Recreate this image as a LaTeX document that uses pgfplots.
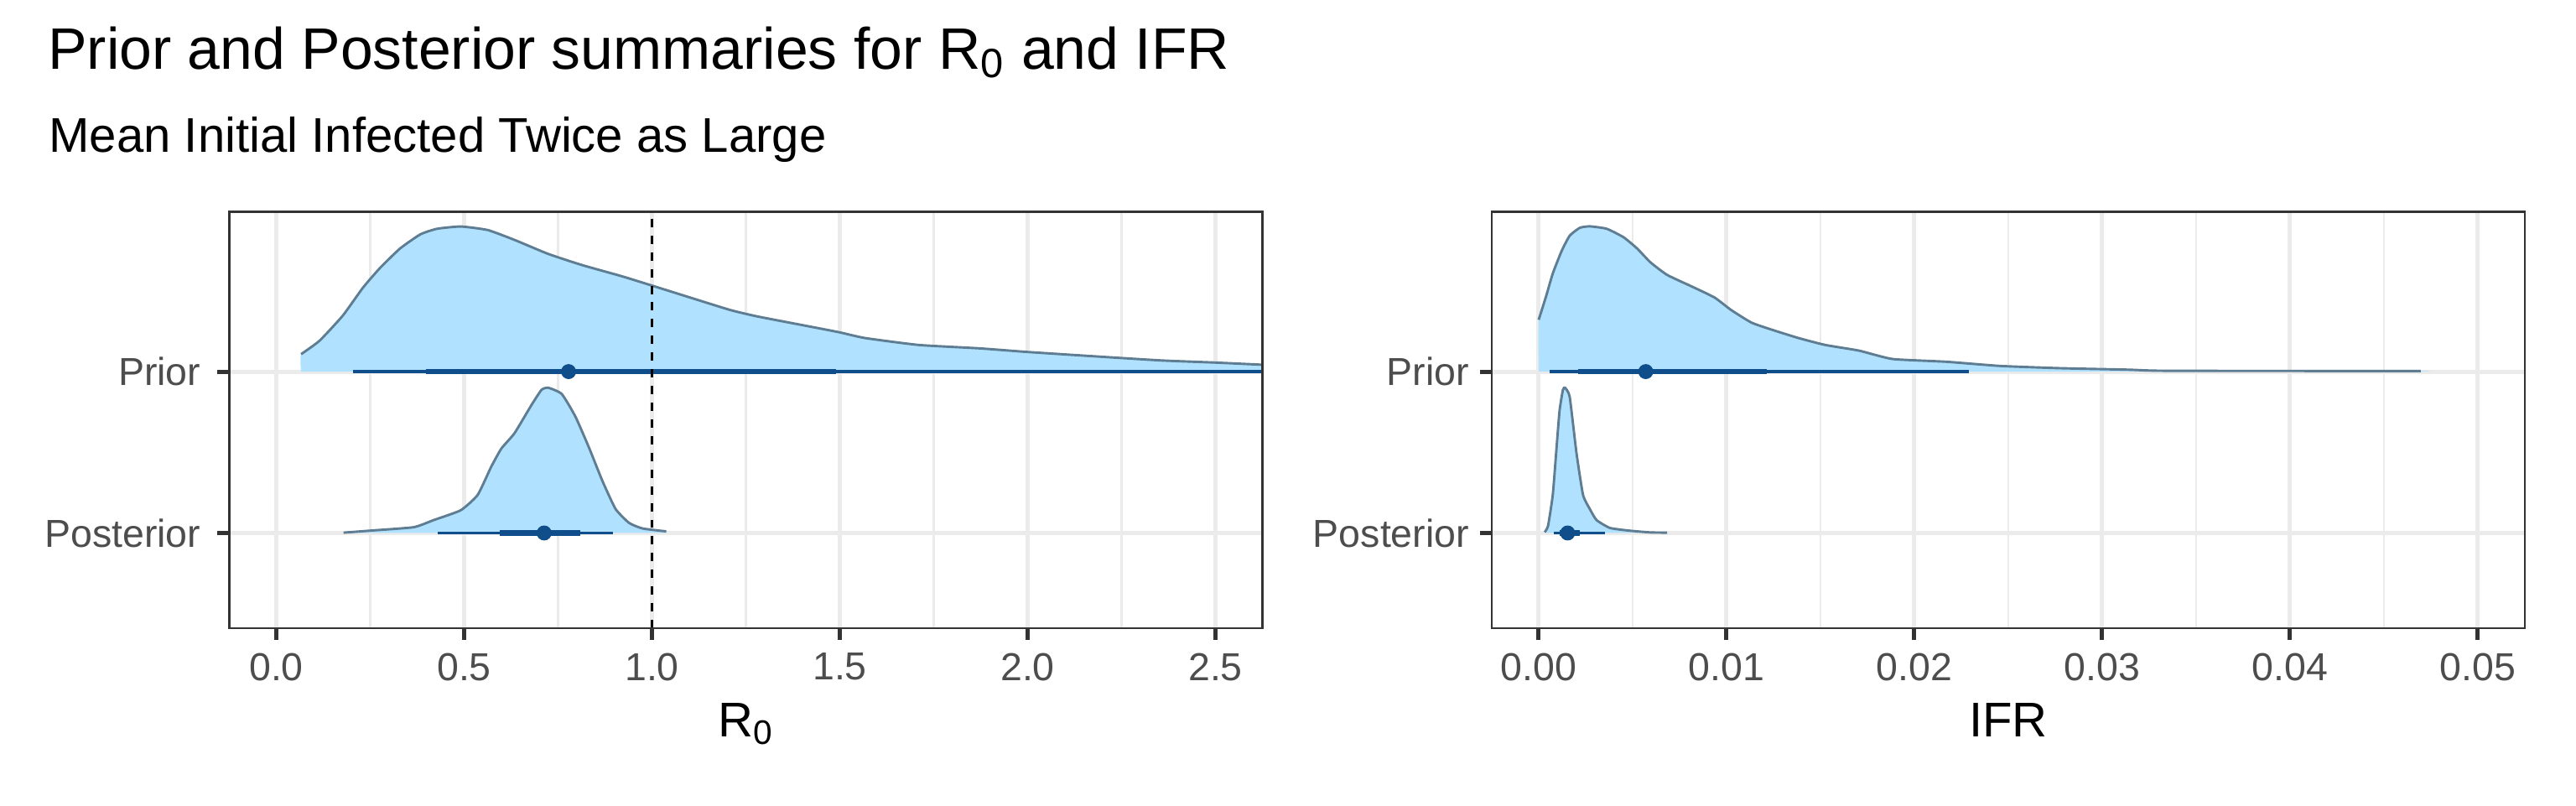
\documentclass[border=0pt]{standalone}
\usepackage{pgfplots}
\pgfplotsset{compat=1.18}
\usepackage{fontspec}
\setmainfont{Liberation Sans}
\definecolor{gridcol}{HTML}{EBEBEB}
\definecolor{bordercol}{HTML}{333333}
\definecolor{ticklab}{HTML}{4D4D4D}
\definecolor{slabfill}{HTML}{B0E2FF}
\definecolor{slabline}{HTML}{5E7D92}
\definecolor{intcol}{HTML}{104E8B}
\pgfplotsset{
  ggbase/.style={
    scale only axis, width=296.8pt, height=119.6pt,
    ymin=0.41, ymax=2.99, ytick={1,2}, yticklabels={Posterior,Prior},
    axis line style={bordercol, line width=0.65pt},
    tick align=outside, major tick length=3.4pt, minor tick length=0pt,
    xtick pos=bottom, ytick pos=left,
    tick style={bordercol, line width=1.2pt},
    grid=both,
    major grid style={gridcol, line width=1.2pt},
    minor grid style={gridcol, line width=0.6pt},
    scaled x ticks=false,
    ticklabel style={font=\fontsize{11.2}{13}\selectfont, text=ticklab},
    xticklabel style={anchor=north, inner sep=0pt, yshift=-3.6pt},
    yticklabel style={anchor=east, inner sep=0pt},
    xlabel style={font=\fontsize{14}{16}\selectfont, at={(axis description cs:0.5,0)}, anchor=base, inner sep=0pt, yshift=-31.08pt},
    clip=true,
    after end axis/.code={\draw[bordercol, line width=0.65pt] (rel axis cs:0,0) rectangle (rel axis cs:1,1);},
  },
  slab/.style={fill=slabfill, draw=none, smooth, tension=0.3},
  slabedge/.style={slabline, line width=0.7pt, smooth, tension=0.3},
}
\begin{document}
\begin{tikzpicture}
\path[use as bounding box] (0,0) rectangle (740.06pt,231.27pt);
\node[anchor=base west, inner sep=0pt] at (13.6pt,211.51pt) {\fontsize{16.8}{20}\selectfont Prior and Posterior summaries for R\textsubscript{0} and IFR};
\node[anchor=base west, inner sep=0pt] at (13.9pt,187.49pt) {\fontsize{14}{16}\selectfont Mean Initial Infected Twice as Large};

% ---------------- R0 panel ----------------
\begin{axis}[ggbase, at={(65.89pt,50.83pt)}, anchor=south west,
  xmin=-0.125, xmax=2.625,
  xtick={0,0.5,1,1.5,2,2.5}, xticklabels={0.0,0.5,1.0,1.5,2.0,2.5},
  minor xtick={0.25,0.75,1.25,1.75,2.25},
  yticklabel style={xshift=-4.67pt},
  xlabel={R\textsubscript{0}}]
% prior slab
\addplot[slab] coordinates {
(0.066,2)(0.066,2.108)(0.115,2.191)(0.177,2.347)(0.231,2.521)(0.276,2.642)(0.330,2.764)(0.384,2.851)(0.428,2.885)(0.491,2.899)(0.563,2.877)(0.634,2.816)(0.724,2.729)(0.814,2.660)(0.921,2.590)(1.0,2.533)(1.100,2.460)(1.208,2.382)(1.280,2.342)(1.423,2.278)(1.5,2.243)(1.567,2.208)(1.710,2.165)(1.872,2.144)(1.997,2.122)(2.176,2.095)(2.356,2.069)(2.499,2.056)(2.62,2.043)(2.70,2.036)(2.70,2)};
\addplot[slabedge] coordinates {
(0.066,2.108)(0.115,2.191)(0.177,2.347)(0.231,2.521)(0.276,2.642)(0.330,2.764)(0.384,2.851)(0.428,2.885)(0.491,2.899)(0.563,2.877)(0.634,2.816)(0.724,2.729)(0.814,2.660)(0.921,2.590)(1.0,2.533)(1.100,2.460)(1.208,2.382)(1.280,2.342)(1.423,2.278)(1.5,2.243)(1.567,2.208)(1.710,2.165)(1.872,2.144)(1.997,2.122)(2.176,2.095)(2.356,2.069)(2.499,2.056)(2.62,2.043)(2.70,2.036)};
% posterior slab
\addplot[slab] coordinates {
(0.179,1)(0.258,1.016)(0.366,1.036)(0.419,1.080)(0.491,1.141)(0.536,1.236)(0.572,1.410)(0.599,1.523)(0.634,1.618)(0.679,1.792)(0.706,1.887)(0.724,1.9)(0.760,1.861)(0.796,1.722)(0.832,1.531)(0.868,1.323)(0.903,1.149)(0.939,1.0625)(0.975,1.028)(1.038,1.010)(1.038,1)};
\addplot[slabedge] coordinates {
(0.179,1.002)(0.258,1.016)(0.366,1.036)(0.419,1.080)(0.491,1.141)(0.536,1.236)(0.572,1.410)(0.599,1.523)(0.634,1.618)(0.679,1.792)(0.706,1.887)(0.724,1.9)(0.760,1.861)(0.796,1.722)(0.832,1.531)(0.868,1.323)(0.903,1.149)(0.939,1.0625)(0.975,1.028)(1.038,1.010)};
% intervals
\addplot[intcol, line width=0.9pt] coordinates {(0.204,2)(3,2)};
\addplot[intcol, line width=1.6pt] coordinates {(0.398,2)(1.491,2)};
\addplot[intcol, only marks, mark=*, mark size=1.95pt] coordinates {(0.778,2)};
\addplot[intcol, line width=0.9pt] coordinates {(0.430,1)(0.896,1)};
\addplot[intcol, line width=1.6pt] coordinates {(0.595,1)(0.810,1)};
\addplot[intcol, only marks, mark=*, mark size=1.95pt] coordinates {(0.713,1)};
% reference line
\addplot[black, line width=0.5pt, dash pattern=on 2.4pt off 2.4pt] coordinates {(1,0.41)(1,2.99)};
\end{axis}

% ---------------- IFR panel ----------------
\begin{axis}[ggbase, at={(428.56pt,50.83pt)}, anchor=south west,
  xmin=-0.0025, xmax=0.0525,
  xtick={0,0.01,0.02,0.03,0.04,0.05}, xticklabels={0.00,0.01,0.02,0.03,0.04,0.05},
  minor xtick={0.005,0.015,0.025,0.035,0.045},
  yticklabel style={xshift=-2.9pt},
  xlabel={IFR}]
\addplot[slab] coordinates {
(0,2)(0,2.321)(0.0004,2.469)(0.00075,2.608)(0.00122,2.747)(0.00165,2.842)(0.00219,2.891)(0.00272,2.9)(0.00362,2.885)(0.00451,2.833)(0.00523,2.764)(0.00595,2.677)(0.00684,2.599)(0.0081,2.530)(0.00935,2.460)(0.01024,2.382)(0.01132,2.304)(0.0124,2.260)(0.01383,2.208)(0.01526,2.165)(0.01705,2.130)(0.01884,2.078)(0.0217,2.061)(0.02457,2.035)(0.0278,2.021)(0.03138,2.012)(0.03353,2.005)(0.04696,2.0035)(0.04696,2)};
\addplot[slabedge] coordinates {
(0,2.321)(0.0004,2.469)(0.00075,2.608)(0.00122,2.747)(0.00165,2.842)(0.00219,2.891)(0.00272,2.9)(0.00362,2.885)(0.00451,2.833)(0.00523,2.764)(0.00595,2.677)(0.00684,2.599)(0.0081,2.530)(0.00935,2.460)(0.01024,2.382)(0.01132,2.304)(0.0124,2.260)(0.01383,2.208)(0.01526,2.165)(0.01705,2.130)(0.01884,2.078)(0.0217,2.061)(0.02457,2.035)(0.0278,2.021)(0.03138,2.012)(0.03353,2.005)(0.04696,2.0035)};
\addplot[slab] coordinates {
(0.00032,1)(0.00032,1.005)(0.0005,1.045)(0.00075,1.236)(0.00093,1.497)(0.00111,1.757)(0.00129,1.887)(0.0014,1.9)(0.00165,1.844)(0.00201,1.497)(0.00236,1.236)(0.00272,1.149)(0.00308,1.080)(0.0038,1.031)(0.00487,1.014)(0.00595,1.0035)(0.00684,1.002)(0.00684,1)};
\addplot[slabedge] coordinates {
(0.00032,1.005)(0.0005,1.045)(0.00075,1.236)(0.00093,1.497)(0.00111,1.757)(0.00129,1.887)(0.0014,1.9)(0.00165,1.844)(0.00201,1.497)(0.00236,1.236)(0.00272,1.149)(0.00308,1.080)(0.0038,1.031)(0.00487,1.014)(0.00595,1.0035)(0.00684,1.002)};
\addplot[intcol, line width=0.9pt] coordinates {(0.00057,2)(0.02289,2)};
\addplot[intcol, line width=1.6pt] coordinates {(0.00211,2)(0.01214,2)};
\addplot[intcol, only marks, mark=*, mark size=1.95pt] coordinates {(0.0057,2)};
\addplot[intcol, line width=0.9pt] coordinates {(0.00082,1)(0.00355,1)};
\addplot[intcol, line width=1.6pt] coordinates {(0.0011,1)(0.00219,1)};
\addplot[intcol, only marks, mark=*, mark size=1.95pt] coordinates {(0.00154,1)};
\end{axis}
\end{tikzpicture}
\end{document}
